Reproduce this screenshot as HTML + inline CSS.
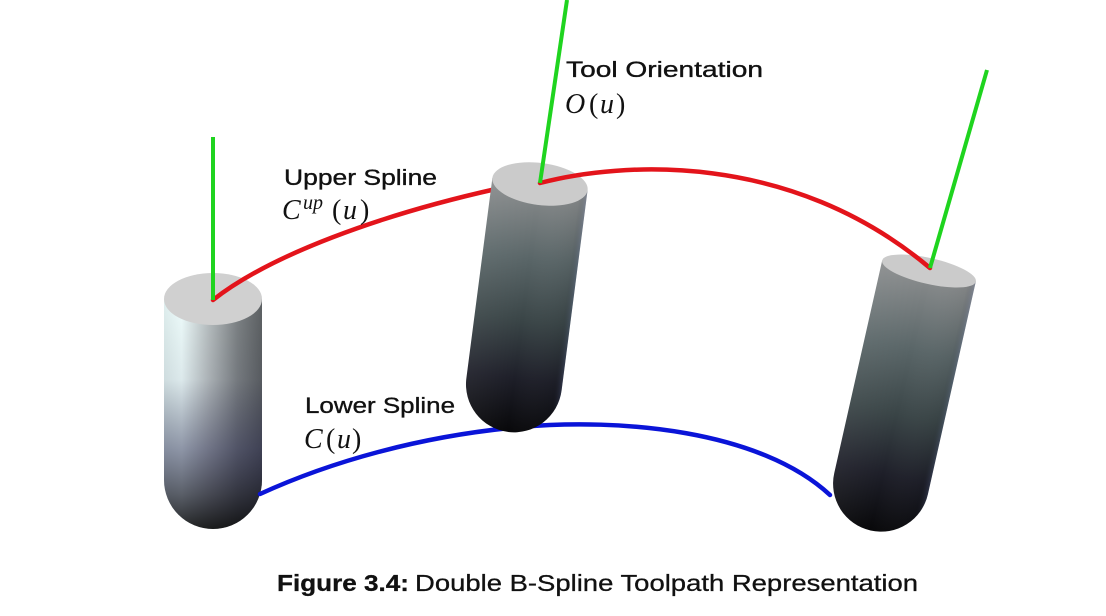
<!DOCTYPE html>
<html>
<head>
<meta charset="utf-8">
<style>
  html, body { margin: 0; padding: 0; background: #ffffff; }
  body { width: 1106px; height: 616px; overflow: hidden; }
  svg { display: block; }
  .lbl { font-family: "Liberation Sans", sans-serif; font-size: 22px; fill: #111; stroke: #111; stroke-width: 0.35px; }
  .m { font-family: "Liberation Serif", serif; font-size: 28px; fill: #111; }
  .mi { font-family: "Liberation Serif", serif; font-size: 28px; font-style: italic; fill: #111; }
  .cap { font-family: "Liberation Sans", sans-serif; font-size: 23px; fill: #111; stroke: #111; stroke-width: 0.3px; }
</style>
</head>
<body>
<svg width="1106" height="616" viewBox="0 0 1106 616" xmlns="http://www.w3.org/2000/svg">
  <defs>
    <linearGradient id="lh" x1="0" y1="0" x2="1" y2="0">
      <stop offset="0" stop-color="#dfeeee"/>
      <stop offset="0.18" stop-color="#eefcfc"/>
      <stop offset="0.45" stop-color="#b9c0c2"/>
      <stop offset="0.75" stop-color="#7d8285"/>
      <stop offset="1" stop-color="#5d6164"/>
    </linearGradient>
    <linearGradient id="lv" x1="0" y1="0" x2="0" y2="1">
      <stop offset="0" stop-color="#000" stop-opacity="0"/>
      <stop offset="0.35" stop-color="#101030" stop-opacity="0.08"/>
      <stop offset="0.65" stop-color="#1a1a40" stop-opacity="0.45"/>
      <stop offset="0.85" stop-color="#0a0a18" stop-opacity="0.65"/>
      <stop offset="1" stop-color="#000" stop-opacity="0.85"/>
    </linearGradient>
    <linearGradient id="dv" x1="0" y1="0" x2="0" y2="1">
      <stop offset="0" stop-color="#8c8e8f"/>
      <stop offset="0.3" stop-color="#5a6668"/>
      <stop offset="0.55" stop-color="#3a4547"/>
      <stop offset="0.78" stop-color="#1e1f29"/>
      <stop offset="1" stop-color="#08080a"/>
    </linearGradient>
    <linearGradient id="dh" x1="0" y1="0" x2="1" y2="0">
      <stop offset="0" stop-color="#fff" stop-opacity="0.06"/>
      <stop offset="0.5" stop-color="#fff" stop-opacity="0"/>
      <stop offset="0.92" stop-color="#000" stop-opacity="0.05"/>
      <stop offset="1" stop-color="#6070a0" stop-opacity="0.25"/>
    </linearGradient>
  </defs>

  <!-- Left cylinder -->
  <g transform="translate(213,299)">
    <path d="M -49 0 L -49 181 A 49 49 0 0 0 49 181 L 49 0 Z" fill="url(#lh)"/>
    <path d="M -49 0 L -49 181 A 49 49 0 0 0 49 181 L 49 0 Z" fill="url(#lv)"/>
    <ellipse cx="0" cy="0" rx="49" ry="26" fill="#d0d0d0"/>
  </g>

  <!-- Right cylinder -->
  <g transform="translate(929,271) rotate(12.7)">
    <path d="M -48 0 L -48 218 A 48 48 0 0 0 48 218 L 48 0 Z" fill="url(#dv)"/>
    <path d="M -48 0 L -48 218 A 48 48 0 0 0 48 218 L 48 0 Z" fill="url(#dh)"/>
    <ellipse cx="0" cy="0" rx="48" ry="13" fill="#cbcbcb"/>
  </g>

  <!-- Red upper spline, left segment (behind middle cylinder) -->
  <path d="M 213 300 C 270 255 380 215 496 189" fill="none" stroke="#e3141b" stroke-width="4.5" stroke-linecap="round"/>

  <!-- Blue lower spline -->
  <path d="M 260 494 C 330 462 420 436 520 427" fill="none" stroke="#0a14d8" stroke-width="4.5" stroke-linecap="round"/>
  <path d="M 520 427 C 620 418 760 430 830 495" fill="none" stroke="#0a14d8" stroke-width="4.5" stroke-linecap="round"/>

  <!-- Middle cylinder -->
  <g transform="translate(540,184) rotate(7.4)">
    <path d="M -48 0 L -48 202 A 48 48 0 0 0 48 202 L 48 0 Z" fill="url(#dv)"/>
    <path d="M -48 0 L -48 202 A 48 48 0 0 0 48 202 L 48 0 Z" fill="url(#dh)"/>
    <ellipse cx="0" cy="0" rx="48" ry="21" fill="#cbcbcb"/>
  </g>

  <!-- Red upper spline, right segment -->
  <path d="M 540 183 C 620 162 790 150 930 268" fill="none" stroke="#e3141b" stroke-width="4.5" stroke-linecap="round"/>

  <!-- Green tool orientation lines -->
  <line x1="213" y1="137" x2="213" y2="300" stroke="#1fd41f" stroke-width="4"/>
  <line x1="567" y1="0" x2="540" y2="183" stroke="#1fd41f" stroke-width="4"/>
  <line x1="987" y1="70" x2="930" y2="268" stroke="#1fd41f" stroke-width="4"/>

  <!-- Labels -->
  <text class="lbl" x="566" y="77" textLength="197" lengthAdjust="spacingAndGlyphs">Tool Orientation</text>
  <text class="mi" x="565" y="113">O</text>
  <text class="m" x="589" y="113">(</text>
  <text class="mi" x="600" y="113">u</text>
  <text class="m" x="616" y="113">)</text>

  <text class="lbl" x="284" y="185" textLength="153" lengthAdjust="spacingAndGlyphs">Upper Spline</text>
  <text class="mi" x="282" y="219">C</text>
  <text class="mi" x="303" y="209" style="font-size:20px">up</text>
  <text class="m" x="332" y="219">(</text>
  <text class="mi" x="343" y="219">u</text>
  <text class="m" x="360" y="219">)</text>

  <text class="lbl" x="305" y="413" textLength="150" lengthAdjust="spacingAndGlyphs">Lower Spline</text>
  <text class="mi" x="304" y="448">C</text>
  <text class="m" x="326" y="448">(</text>
  <text class="mi" x="337" y="448">u</text>
  <text class="m" x="352" y="448">)</text>

  <!-- Caption -->
  <text class="cap" x="277" y="591" font-weight="bold" textLength="132" lengthAdjust="spacingAndGlyphs">Figure 3.4:</text>
  <text class="cap" x="415" y="591" textLength="503" lengthAdjust="spacingAndGlyphs">Double B-Spline Toolpath Representation</text>
</svg>
</body>
</html>
